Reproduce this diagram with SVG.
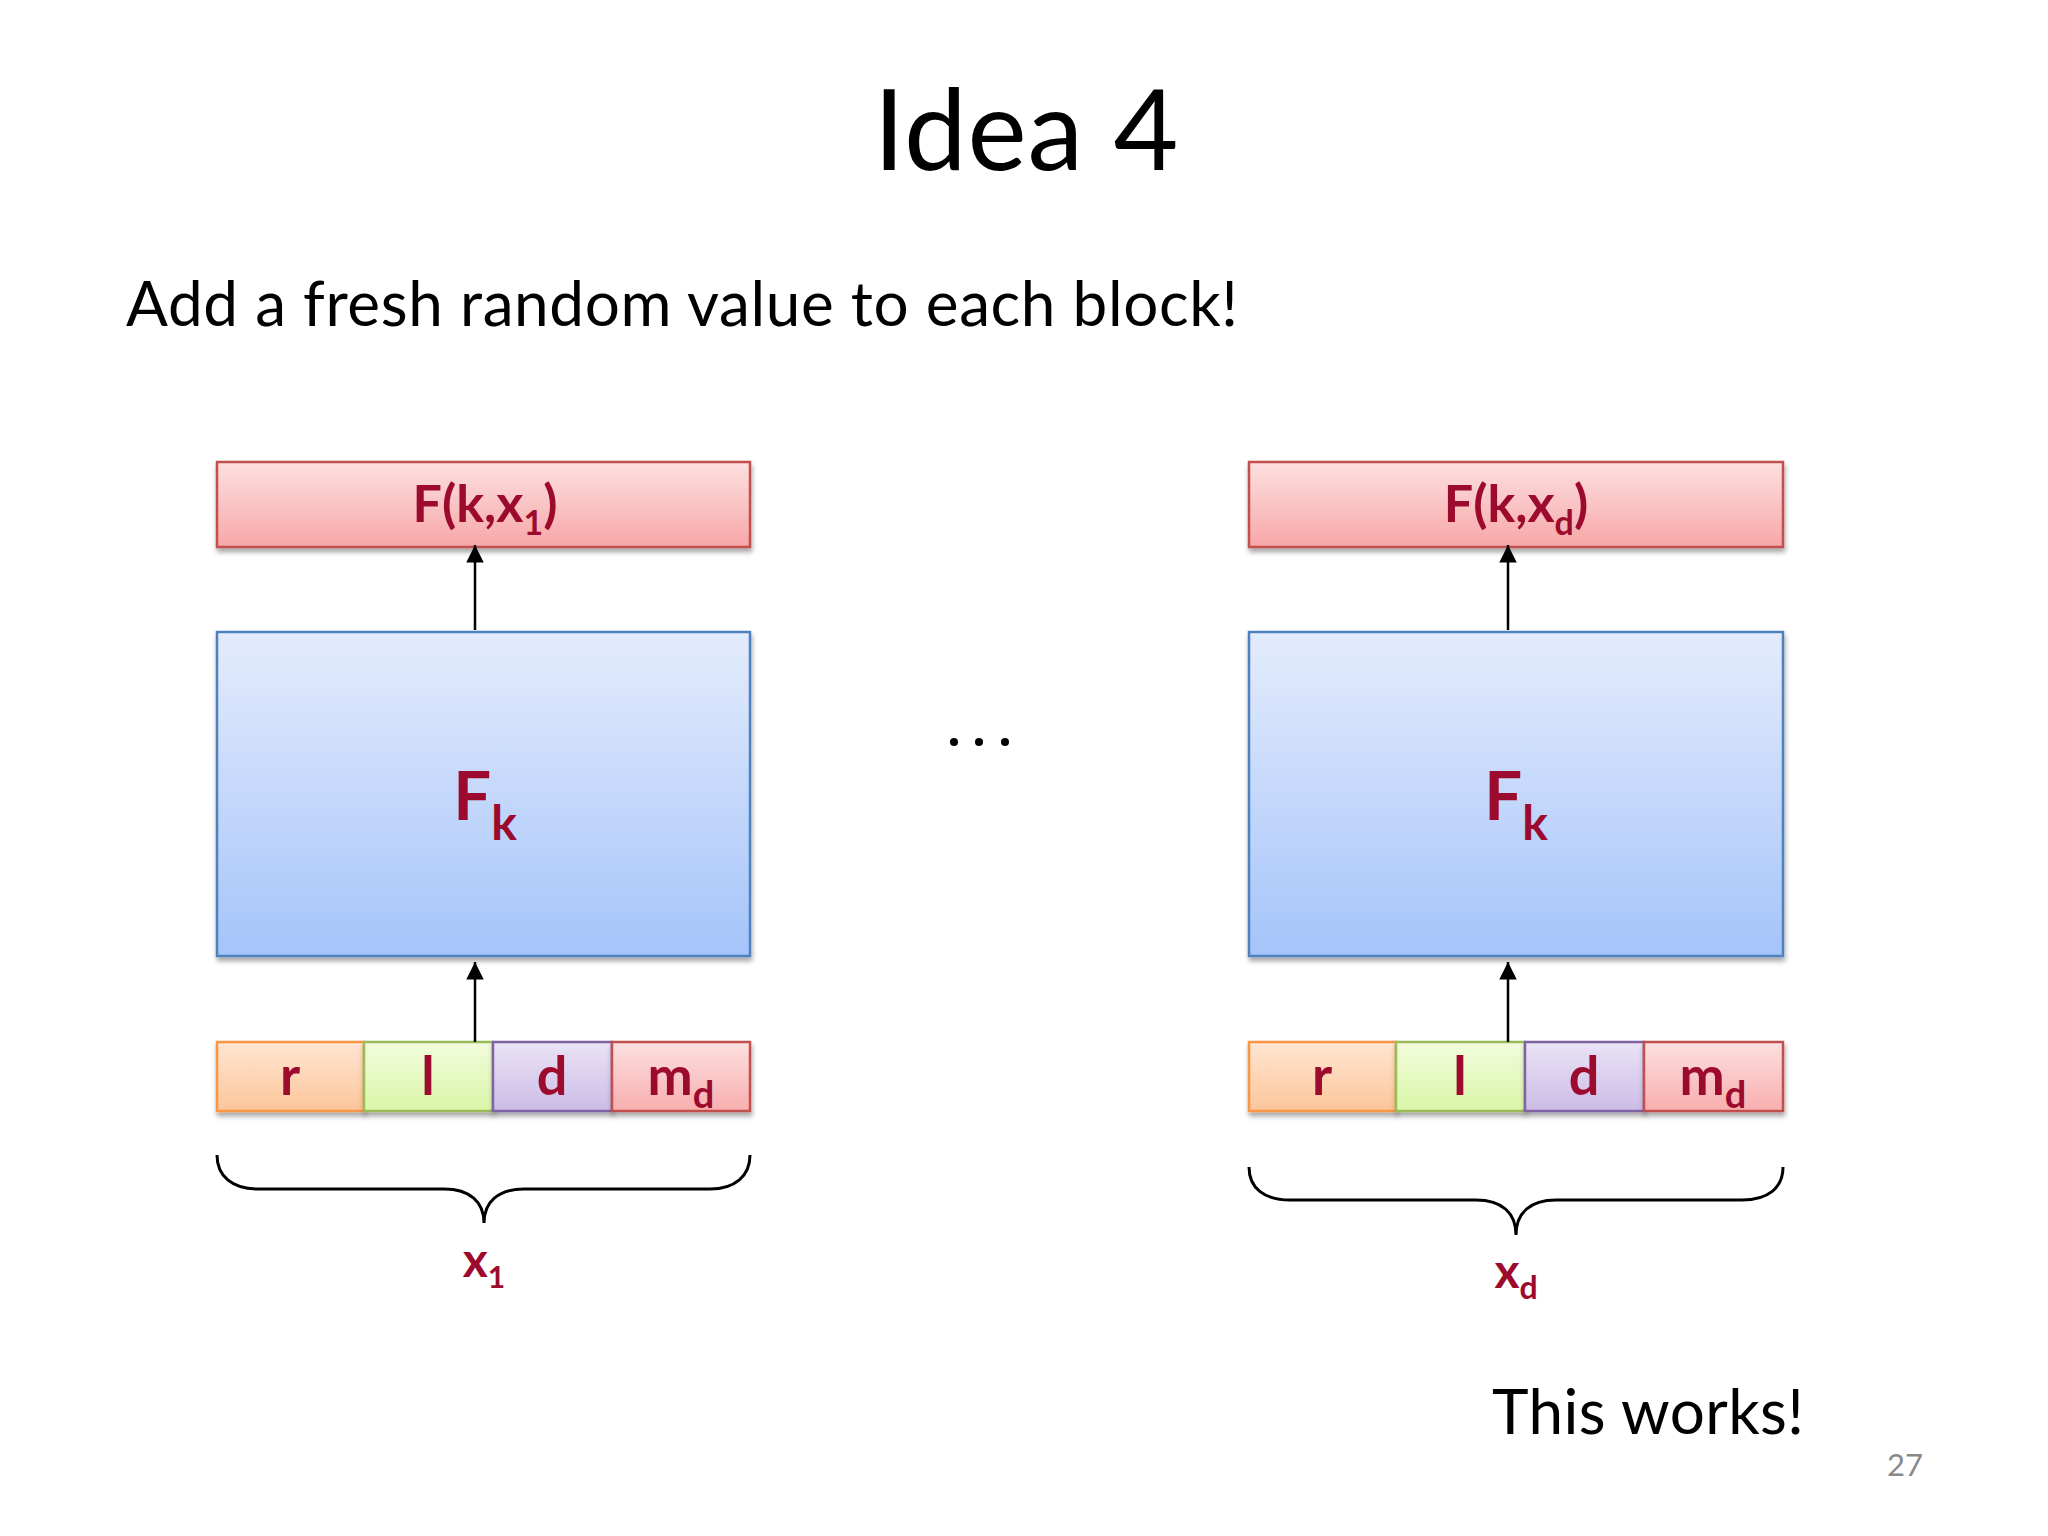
<svg xmlns="http://www.w3.org/2000/svg" width="2048" height="1536" viewBox="0 0 2048 1536">
<defs>
<linearGradient id="gRed" x1="0" y1="0" x2="0" y2="1"><stop offset="0" stop-color="#FDE0E0"/><stop offset="1" stop-color="#F7A7A7"/></linearGradient>
<linearGradient id="gBlue" x1="0" y1="0" x2="0" y2="1"><stop offset="0" stop-color="#E4ECFC"/><stop offset="1" stop-color="#A5C4FA"/></linearGradient>
<linearGradient id="gOrange" x1="0" y1="0" x2="0" y2="1"><stop offset="0" stop-color="#FFE5D2"/><stop offset="1" stop-color="#FCC59A"/></linearGradient>
<linearGradient id="gGreen" x1="0" y1="0" x2="0" y2="1"><stop offset="0" stop-color="#F2FBDD"/><stop offset="1" stop-color="#DAF7A8"/></linearGradient>
<linearGradient id="gPurple" x1="0" y1="0" x2="0" y2="1"><stop offset="0" stop-color="#EAE3F6"/><stop offset="1" stop-color="#CCBCE6"/></linearGradient>
<linearGradient id="gPink" x1="0" y1="0" x2="0" y2="1"><stop offset="0" stop-color="#FDE0E0"/><stop offset="1" stop-color="#F8AEAE"/></linearGradient>
<filter id="sh" x="-5%" y="-20%" width="110%" height="150%"><feDropShadow dx="1" dy="4" stdDeviation="2.5" flood-color="#000" flood-opacity="0.35"/></filter>
<marker id="ah" viewBox="0 0 10 10" refX="10" refY="5" markerWidth="7" markerHeight="7" markerUnits="strokeWidth" orient="auto"><path d="M0,0 L10,5 L0,10 z" fill="#000"/></marker>
<style>
.lbl{font-family:Lato,"Open Sans","Liberation Sans",sans-serif;font-weight:bold;fill:#9C0A2E;text-anchor:middle}
.txt{font-family:Lato,"Open Sans","Liberation Sans",sans-serif;fill:#000}
.box{stroke-width:2.5;filter:url(#sh)}
.conn{stroke:#000;stroke-width:2.5;fill:none}
.brace{stroke:#000;stroke-width:3;fill:none}
</style>
</defs>
<rect width="2048" height="1536" fill="#FFFFFF"/>
<text class="txt" x="1026" y="170" font-size="112" text-anchor="middle" textLength="305">Idea 4</text>
<text class="txt" x="126" y="326" font-size="62" textLength="1112">Add a fresh random value to each block!</text>
<g id="left-output"><rect class="box" x="217" y="462" width="533" height="85" fill="url(#gRed)" stroke="#C0504D"/><text class="lbl" x="485" y="522" font-size="52">F(k,x<tspan font-size="34" dy="13">1</tspan><tspan dy="-13">)</tspan></text></g>
<g id="left-prf"><rect class="box" x="217" y="632" width="533" height="324" fill="url(#gBlue)" stroke="#4F81BD"/><text class="lbl" x="485" y="820" font-size="67">F<tspan font-size="48" dy="20">k</tspan></text></g>
<g id="left-input">
<rect class="box" x="217" y="1042" width="147" height="69" fill="url(#gOrange)" stroke="#F79646"/>
<rect class="box" x="364" y="1042" width="129" height="69" fill="url(#gGreen)" stroke="#9BBB59"/>
<rect class="box" x="493" y="1042" width="119" height="69" fill="url(#gPurple)" stroke="#8064A2"/>
<rect class="box" x="612" y="1042" width="138" height="69" fill="url(#gPink)" stroke="#C0504D"/>
<text class="lbl" x="290" y="1095" font-size="54">r</text>
<text class="lbl" x="428" y="1095" font-size="54">l</text>
<text class="lbl" x="552" y="1095" font-size="54">d</text>
<text class="lbl" x="681" y="1095" font-size="54">m<tspan font-size="38" dy="13">d</tspan></text>
</g>
<g id="left-brace"><path class="brace" d="M217,1155 C217,1176 232,1189 258,1189 L444,1189 C470,1189 484,1202 484,1223 C484,1202 498,1189 524,1189 L710,1189 C735,1189 750,1176 750,1155"/><text class="lbl" x="484" y="1277" font-size="48">x<tspan font-size="30" dy="11">1</tspan></text></g>
<g id="right-output"><rect class="box" x="1249" y="462" width="534" height="85" fill="url(#gRed)" stroke="#C0504D"/><text class="lbl" x="1516" y="522" font-size="52">F(k,x<tspan font-size="34" dy="13">d</tspan><tspan dy="-13">)</tspan></text></g>
<g id="right-prf"><rect class="box" x="1249" y="632" width="534" height="324" fill="url(#gBlue)" stroke="#4F81BD"/><text class="lbl" x="1516" y="820" font-size="67">F<tspan font-size="48" dy="20">k</tspan></text></g>
<g id="right-input">
<rect class="box" x="1249" y="1042" width="147" height="69" fill="url(#gOrange)" stroke="#F79646"/>
<rect class="box" x="1396" y="1042" width="129" height="69" fill="url(#gGreen)" stroke="#9BBB59"/>
<rect class="box" x="1525" y="1042" width="119" height="69" fill="url(#gPurple)" stroke="#8064A2"/>
<rect class="box" x="1644" y="1042" width="139" height="69" fill="url(#gPink)" stroke="#C0504D"/>
<text class="lbl" x="1322" y="1095" font-size="54">r</text>
<text class="lbl" x="1460" y="1095" font-size="54">l</text>
<text class="lbl" x="1584" y="1095" font-size="54">d</text>
<text class="lbl" x="1713" y="1095" font-size="54">m<tspan font-size="38" dy="13">d</tspan></text>
</g>
<g id="right-brace"><path class="brace" d="M1249,1167 C1249,1188 1264,1200 1290,1200 L1476,1200 C1502,1200 1516,1213 1516,1235 C1516,1213 1530,1200 1556,1200 L1742,1200 C1768,1200 1783,1188 1783,1167"/><text class="lbl" x="1516" y="1288" font-size="48">x<tspan font-size="32" dy="11">d</tspan></text></g>
<g id="connectors">
<line class="conn" x1="475" y1="630" x2="475" y2="545" marker-end="url(#ah)"/>
<line class="conn" x1="475" y1="1042" x2="475" y2="962" marker-end="url(#ah)"/>
<line class="conn" x1="1508" y1="630" x2="1508" y2="545" marker-end="url(#ah)"/>
<line class="conn" x1="1508" y1="1042" x2="1508" y2="962" marker-end="url(#ah)"/>
</g>
<g id="ellipsis" fill="#000"><circle cx="954" cy="742" r="4"/><circle cx="979" cy="742" r="4"/><circle cx="1005" cy="742" r="4"/></g>
<text class="txt" x="1492" y="1434" font-size="62" textLength="312">This works!</text>
<text class="txt" x="1923" y="1476" font-size="31" text-anchor="end" style="fill:#888888">27</text>
</svg>
